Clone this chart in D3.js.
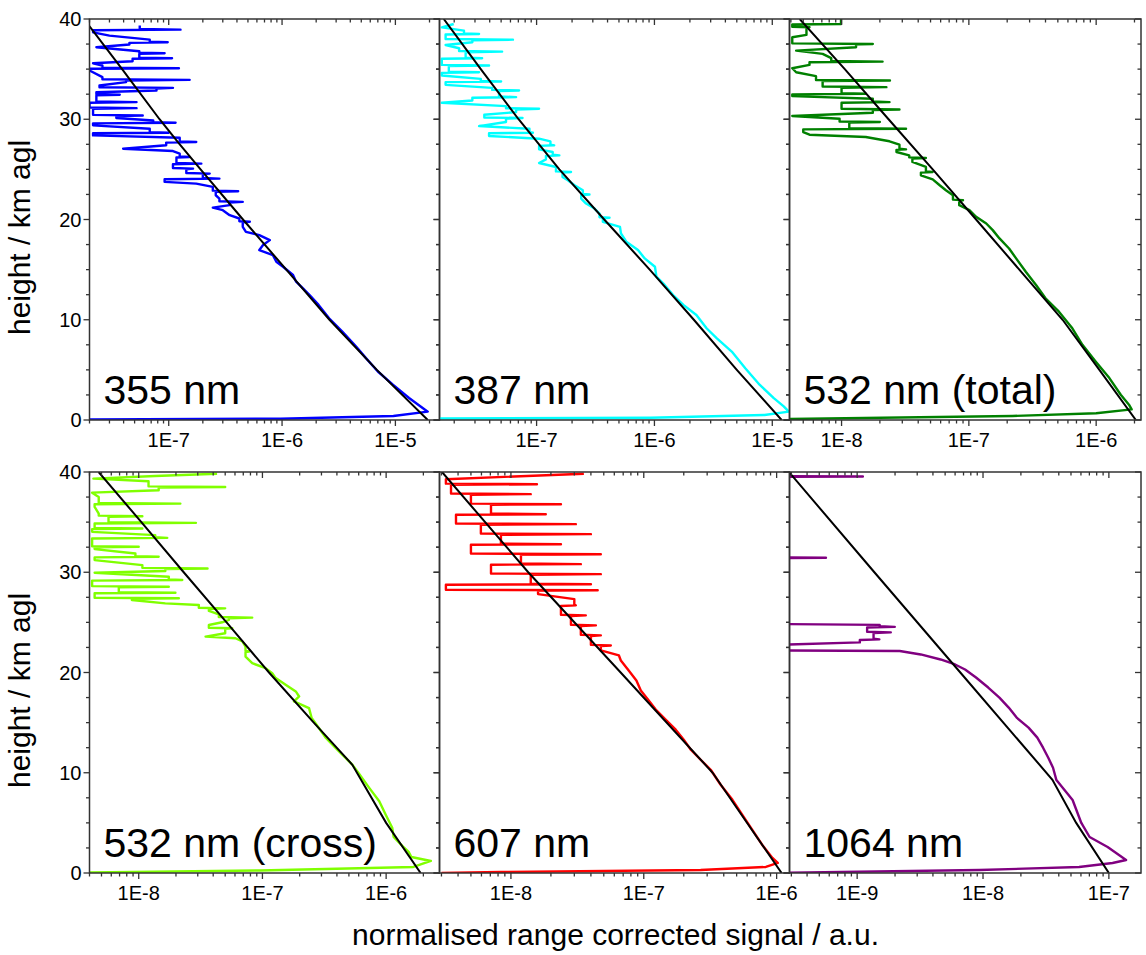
<!DOCTYPE html>
<html>
<head>
<meta charset="utf-8">
<script src="https://cdn.jsdelivr.net/npm/d3@7"></script>
<style>
  body { margin: 0; background: #ffffff; }
  text { font-family: "Liberation Sans", Arial, sans-serif; fill: #000; }
</style>
</head>
<body>
<svg id="chart" width="1146" height="955"></svg>
<script>
// ---- measured profiles: [height / km agl, normalised range corrected signal / a.u.] ----
const profile355 = [[39.34,5.55e-8],[38.94,1.27e-7],[38.67,2.15e-8],[38.34,3.0e-8],[37.94,6.8e-8],[37.68,9.8e-8],[37.45,4.5e-8],[37.18,2.3e-8],[36.78,5.5e-8],[36.58,9.2e-8],[36.35,5.5e-8],[36.09,1.07e-7],[35.79,4.8e-8],[35.59,2.15e-8],[35.36,2.6e-8],[35.09,1.23e-7],[34.86,2.0e-8],[34.20,2.6e-8],[33.93,1.53e-7],[33.70,4.2e-8],[33.37,2.45e-8],[33.13,1.09e-7],[32.87,7.8e-8],[32.70,2.3e-8],[32.44,3.7e-8],[32.21,2.3e-8],[31.71,5.2e-8],[31.44,2.0e-8],[31.11,5.2e-8],[30.88,2.15e-8],[30.38,5.9e-8],[30.12,3.45e-8],[29.88,7.3e-8],[29.65,1.15e-7],[29.39,2.15e-8],[29.05,6.8e-8],[28.66,1.0e-7],[28.39,2.15e-8],[28.16,1.25e-7],[27.73,1.75e-7],[27.40,9.5e-8],[27.06,3.96e-8],[26.83,1.09e-7],[26.57,1.25e-7],[26.24,1.53e-7],[25.90,1.17e-7],[25.57,1.94e-7],[25.34,1.09e-7],[25.07,1.64e-7],[24.81,1.43e-7],[24.58,2.3e-7],[24.35,2.0e-7],[24.08,2.8e-7],[23.75,9.2e-8],[23.58,1.75e-7],[23.25,2.45e-7],[22.82,4.1e-7],[22.42,2.6e-7],[22.09,2.8e-7],[21.76,4.5e-7],[21.43,3.45e-7],[21.19,2.45e-7],[20.93,3.0e-7],[20.43,3.45e-7],[20.10,4.2e-7],[19.77,5.2e-7],[19.27,4.5e-7],[18.77,4.8e-7],[18.44,6.3e-7],[17.94,7.8e-7],[17.45,6.8e-7],[16.95,6.3e-7],[16.45,8.3e-7],[15.79,8.9e-7],[15.29,1.02e-6],[14.46,1.25e-6],[13.80,1.33e-6],[13.13,1.53e-6],[12.47,1.75e-6],[11.48,2.1e-6],[10.15,2.6e-6],[8.82,3.4e-6],[7.33,4.5e-6],[6.17,5.5e-6],[4.84,7.0e-6],[3.52,9.5e-6],[2.19,1.32e-5],[1.19,1.74e-5],[0.83,1.93e-5],[0.40,9.6e-6],[0.13,9.7e-7],[0.06,2.0e-8]];
const molecular355 = [[40,1.79e-8],[35,3.88e-8],[30,8.3e-8],[27.7,1.21e-7],[25,1.91e-7],[20,4.52e-7],[15,1.09e-6],[10,2.62e-6],[5,6.86e-6],[0,1.93e-5]];

const profile387 = [[39.50,1.98e-8],[39.17,1.57e-8],[38.84,2.42e-8],[38.51,3.25e-8],[38.18,1.69e-8],[37.94,6.3e-8],[37.68,2.85e-8],[37.41,1.69e-8],[37.08,2.2e-8],[36.75,5.1e-8],[36.42,2.5e-8],[36.09,3.45e-8],[35.75,1.57e-8],[35.36,3.95e-8],[35.02,1.8e-8],[34.69,3.25e-8],[34.36,1.57e-8],[34.03,3.36e-8],[33.76,5.0e-8],[33.43,1.69e-8],[33.13,4.2e-8],[32.87,7.1e-8],[32.54,4.8e-8],[32.21,6.7e-8],[31.87,2.85e-8],[31.64,1.57e-8],[31.31,5.5e-8],[31.04,1.05e-7],[30.71,6.7e-8],[30.45,3.6e-8],[30.12,7.6e-8],[29.72,5.5e-8],[29.32,3.25e-8],[29.05,8.7e-8],[28.66,9.3e-8],[28.33,3.95e-8],[28.06,1.05e-7],[27.80,1.31e-7],[27.40,1.41e-7],[27.00,1.05e-7],[26.73,1.37e-7],[26.40,1.56e-7],[26.00,1.2e-7],[25.64,1.05e-7],[25.24,1.46e-7],[24.74,1.96e-7],[24.25,1.66e-7],[23.91,1.84e-7],[23.42,2.1e-7],[22.92,2.47e-7],[22.49,2.81e-7],[22.09,2.39e-7],[21.59,2.63e-7],[21.09,3.1e-7],[20.60,3.42e-7],[20.17,4.16e-7],[19.77,3.65e-7],[19.27,5.1e-7],[18.61,5.2e-7],[17.78,5.77e-7],[16.95,7.25e-7],[16.12,8.27e-7],[15.29,1.01e-6],[14.30,1.04e-6],[13.47,1.22e-6],[12.47,1.44e-6],[11.48,1.76e-6],[10.48,2.27e-6],[9.15,2.77e-6],[8.16,3.37e-6],[6.83,4.53e-6],[5.17,5.9e-6],[3.52,7.8e-6],[2.19,1.03e-5],[1.36,1.25e-5],[0.83,1.38e-5],[0.50,8.6e-6],[0.23,9.3e-7],[0.15,1.5e-8]];
const molecular387 = [[40,1.63e-8],[35,3.36e-8],[30,7.03e-8],[25,1.56e-7],[20,3.75e-7],[15,9.12e-7],[10,2.16e-6],[5,5.0e-6],[0,1.2e-5]];

const profile532t = [[40.4,9.9e-9],[39.5,9.9e-9],[39.45,4.1e-9],[39.17,5.6e-9],[38.41,5.3e-9],[38.18,4.1e-9],[37.51,1.76e-8],[37.18,1.3e-8],[36.85,4.4e-9],[36.52,7.1e-9],[36.09,8.3e-9],[35.75,2.1e-8],[35.42,5.6e-9],[35.09,4.1e-9],[34.69,4.4e-9],[34.30,6.3e-9],[33.86,2.4e-8],[33.53,7.1e-9],[33.20,2.25e-8],[32.87,1.0e-8],[32.54,1.55e-8],[32.31,4.1e-9],[32.04,1.76e-8],[31.71,2.38e-8],[31.31,1.0e-8],[30.98,2.85e-8],[30.65,1.76e-8],[30.32,4.1e-9],[30.05,9.65e-9],[29.72,2.0e-8],[29.39,1.15e-8],[29.05,3.21e-8],[28.72,5.0e-9],[28.46,5.6e-9],[28.23,1.55e-8],[27.80,2.38e-8],[27.46,2.85e-8],[27.00,3.21e-8],[26.73,2.7e-8],[26.40,3.4e-8],[26.14,4.6e-8],[25.74,3.6e-8],[25.24,4.6e-8],[24.74,5.2e-8],[24.41,4.2e-8],[24.01,5.2e-8],[23.42,5.9e-8],[22.92,6.6e-8],[22.42,7.5e-8],[21.92,9.0e-8],[21.43,8.4e-8],[20.93,1.01e-7],[20.27,1.14e-7],[19.60,1.37e-7],[18.94,1.54e-7],[18.11,1.74e-7],[17.11,2.07e-7],[16.12,2.35e-7],[14.79,2.8e-7],[13.47,3.37e-7],[12.14,4.0e-7],[10.81,5.1e-7],[9.15,6.5e-7],[7.50,7.8e-7],[5.84,9.9e-7],[4.18,1.27e-6],[2.52,1.56e-6],[1.53,1.81e-6],[1.06,1.9e-6],[0.67,1.0e-6],[0.40,2.2e-7],[0.10,3.9e-9]];
const molecular532t = [[40,4.69e-9],[35,1.06e-8],[30,2.34e-8],[25,5.2e-8],[20,1.14e-7],[15,2.49e-7],[10,5.45e-7],[5,1.06e-6],[0,2.05e-6]];

const profile532c = [[39.83,4.3e-8],[39.60,1.36e-8],[39.34,4.3e-9],[39.07,1.2e-8],[38.51,5.0e-8],[38.18,1.45e-8],[37.94,4.2e-9],[37.51,4.75e-9],[36.85,2.17e-8],[36.52,4.4e-9],[35.85,4.75e-9],[35.59,1.07e-8],[35.19,5.7e-9],[34.93,2.9e-8],[34.63,4.4e-9],[34.36,1.07e-8],[34.03,4.2e-9],[33.70,1.36e-8],[33.43,1.7e-8],[33.10,4.2e-9],[32.54,1.0e-8],[32.31,4.4e-9],[31.87,9.4e-9],[31.54,1.45e-8],[31.21,4.4e-9],[30.71,1.07e-8],[30.38,3.6e-8],[30.12,1.64e-8],[29.95,4.4e-9],[29.55,1.75e-8],[29.22,2.25e-8],[28.89,4.2e-9],[28.56,1.75e-8],[28.23,6.9e-9],[27.96,1.98e-8],[27.66,4.4e-9],[27.40,2.11e-8],[27.23,8.8e-9],[26.90,1.64e-8],[26.73,3.06e-8],[26.40,5.0e-8],[26.14,3.69e-8],[25.80,4.44e-8],[25.47,8.27e-8],[25.24,5.35e-8],[25.01,4.73e-8],[24.74,3.69e-8],[24.41,5.7e-8],[23.91,5.0e-8],[23.58,3.47e-8],[23.42,6.05e-8],[23.09,6.9e-8],[22.59,7.3e-8],[22.09,7.8e-8],[21.59,7.3e-8],[20.93,8.27e-8],[20.43,1.06e-7],[19.93,1.2e-7],[19.44,1.28e-7],[18.77,1.54e-7],[18.11,1.86e-7],[17.61,1.98e-7],[17.11,1.8e-7],[16.45,2.38e-7],[15.46,2.5e-7],[14.46,2.86e-7],[13.47,3.26e-7],[12.47,3.9e-7],[11.48,4.7e-7],[10.81,5.33e-7],[9.82,6.1e-7],[8.49,7.3e-7],[7.16,8.8e-7],[5.84,9.9e-7],[4.51,1.12e-6],[3.60,1.15e-6],[2.70,1.35e-6],[2.10,1.52e-6],[1.60,1.6e-6],[1.20,2.3e-6],[0.60,1.66e-6],[0.25,9.5e-8],[0.05,4.0e-9]];
const molecular532c = [[40,4.74e-9],[35,1.05e-8],[30,2.31e-8],[25,5.13e-8],[20,1.13e-7],[15,2.6e-7],[10.8,5.33e-7],[5,1.0e-6],[0,1.9e-6]];

const profile607 = [[39.83,3.54e-8],[39.28,3.24e-9],[38.78,1.57e-8],[38.29,3.54e-9],[37.79,1.41e-8],[37.29,5.0e-9],[36.79,2.38e-8],[36.29,7.08e-9],[35.79,1.83e-8],[35.29,3.86e-9],[34.80,3.08e-8],[34.30,5.94e-9],[33.80,4.0e-8],[33.30,8.41e-9],[32.80,2.38e-8],[32.30,5.0e-9],[31.80,4.75e-8],[31.31,1.19e-8],[30.81,3.36e-8],[30.31,7.08e-9],[29.81,4.75e-8],[29.31,1.41e-8],[28.81,4.0e-8],[28.32,3.24e-9],[28.20,4.5e-8],[27.82,1.6e-8],[27.32,3.0e-8],[26.70,3.08e-8],[26.20,2.38e-8],[25.70,3.66e-8],[25.20,2.83e-8],[24.70,4.36e-8],[24.20,3.36e-8],[23.70,4.75e-8],[23.20,4.0e-8],[22.70,5.65e-8],[22.20,4.75e-8],[21.70,6.5e-8],[21.20,6.72e-8],[20.20,7.7e-8],[19.20,8.8e-8],[18.20,9.5e-8],[17.20,1.09e-7],[16.30,1.23e-7],[15.30,1.46e-7],[14.30,1.74e-7],[13.30,2.0e-7],[12.30,2.26e-7],[11.30,2.68e-7],[10.30,3.19e-7],[8.80,3.79e-7],[7.30,4.65e-7],[5.80,5.52e-7],[4.30,6.56e-7],[2.80,7.8e-7],[1.50,9.3e-7],[1.00,1.02e-6],[0.60,8.3e-7],[0.30,2.68e-7],[0.10,8.41e-9],[0.00,3.0e-9]];
const molecular607 = [[40,3.03e-9],[30,1.35e-8],[20,6.7e-8],[10,3.3e-7],[0,1.09e-6]];

const profile1064 = [[40,1.5e-10],[39.6,1.5e-10],[39.55,1.11e-9],[39.45,1.5e-10],[31.5,1.5e-10],[31.45,5.65e-10],[31.35,1.5e-10],[24.85,1.5e-10],[24.75,1.51e-9],[24.55,1.99e-9],[24.3,1.2e-9],[24.0,1.85e-9],[23.7,1.35e-9],[23.3,1.5e-9],[23.0,1.05e-9],[22.7,1.5e-10],[22.2,1.5e-10],[22.15,2.18e-9],[21.8,3.2e-9],[21.3,4.6e-9],[20.8,6.0e-9],[20.3,7.2e-9],[19.5,8.8e-9],[18.5,1.1e-8],[17.5,1.35e-8],[16.5,1.6e-8],[15.5,1.85e-8],[14.5,2.3e-8],[13.5,2.7e-8],[12.5,3.0e-8],[11.5,3.3e-8],[10.5,3.6e-8],[9.27,3.83e-8],[7.28,5.15e-8],[4.99,6.04e-8],[3.59,7.03e-8],[2.59,9.77e-8],[1.30,1.37e-7],[1.0,1.07e-7],[0.6,5.8e-8],[0.3,9.4e-9],[0.03,2.9e-10]];
const molecular1064 = [[40,2.87e-10],[30,1.37e-9],[20,6.6e-9],[9.3,3.56e-8],[5,5.5e-8],[0,1.0e-7]];

// ---- axis ranges and labels ----
const signalRanges = [[2.0e-8, 2.45e-5], [1.5e-8, 1.4e-5], [3.9e-9, 2.25e-6],
                      [4.0e-9, 2.7e-6], [2.9e-9, 1.25e-6], [2.9e-10, 1.8e-7]];
const heightRange = [0, 40];
const heightTickLabels = [0, 10, 20, 30, 40];
const channelLabels = ["355 nm", "387 nm", "532 nm (total)", "532 nm (cross)", "607 nm", "1064 nm"];
const channelColors = ["#0000ff", "#00ffff", "#008000", "#80ff00", "#ff0000", "#800080"];
const profiles = [profile355, profile387, profile532t, profile532c, profile607, profile1064];
const molecular = [molecular355, molecular387, molecular532t, molecular532c, molecular607, molecular1064];
// heights above which the raw signal is noise dominated (single-bin spikes)
const noisyAbove = [19, 19, 20, 20, 21, 22.1];

const xTitle = "normalised range corrected signal / a.u.";
const yTitle = "height / km agl";

// ---- layout ----
const colEdges = [89.5, 439.5, 789.5, 1141];
const rowTops = [19, 472];
const panelH = 401;
const majorLen = 6, minorLen = 3.5;

const svg = d3.select("#chart");

function logTicks(domain) {
  const out = [];
  const d0 = Math.floor(Math.log10(domain[0])), d1 = Math.ceil(Math.log10(domain[1]));
  for (let d = d0; d <= d1; d++) {
    for (let k = 1; k <= 9; k++) {
      const v = +(k + "e" + d);
      if (v >= domain[0] * 0.9999 && v <= domain[1] * 1.0001) out.push({ v, major: k === 1, exp: d });
    }
  }
  return out;
}

// Noise peaks are single range bins: draw each local maximum in the noisy
// part as a thin spike that leaves and rejoins the trace within one bin.
function spikeVertices(points, above, halfBin) {
  const out = [];
  points.forEach((p, k) => {
    const prev = points[k - 1], next = points[k + 1];
    const tip = prev && next && p[0] > above && p[1] > prev[1] && p[1] > next[1];
    if (tip) out.push([p[0] + halfBin, prev[1]]);
    out.push(p);
    if (tip) out.push([p[0] - halfBin, next[1]]);
  });
  return out;
}

profiles.forEach((prof, i) => {
  const col = i % 3, row = Math.floor(i / 3);
  const x0 = colEdges[col], x1 = colEdges[col + 1];
  const y0 = rowTops[row], y1 = y0 + panelH;

  const x = d3.scaleLog().domain(signalRanges[i]).range([x0, x1]);
  const y = d3.scaleLinear().domain(heightRange).range([y1, y0]);

  const g = svg.append("g");
  const clipId = "clip" + i;
  svg.append("clipPath").attr("id", clipId)
    .append("rect").attr("x", x0).attr("y", y0).attr("width", x1 - x0).attr("height", y1 - y0);

  const line = d3.line().x(d => x(d[1])).y(d => y(d[0]));

  g.append("path").datum(spikeVertices(prof, noisyAbove[i], 0.06))
    .attr("clip-path", `url(#${clipId})`)
    .attr("d", line)
    .attr("fill", "none")
    .attr("stroke", channelColors[i])
    .attr("stroke-width", 2.4)
    .attr("stroke-linejoin", "round");

  g.append("path").datum(molecular[i])
    .attr("clip-path", `url(#${clipId})`)
    .attr("d", line)
    .attr("fill", "none")
    .attr("stroke", "#000")
    .attr("stroke-width", 2);

  // frame
  g.append("rect").attr("x", x0).attr("y", y0).attr("width", x1 - x0).attr("height", y1 - y0)
    .attr("fill", "none").attr("stroke", "#333").attr("stroke-width", 1.5);

  // horizontal (signal) ticks: bottom outward, top inward
  const xt = logTicks(signalRanges[i]);
  xt.forEach(t => {
    const px = x(t.v), len = t.major ? majorLen : minorLen;
    g.append("line").attr("x1", px).attr("x2", px).attr("y1", y1).attr("y2", y1 + len)
      .attr("stroke", "#333").attr("stroke-width", 1.3);
    g.append("line").attr("x1", px).attr("x2", px).attr("y1", y0).attr("y2", y0 + len)
      .attr("stroke", "#333").attr("stroke-width", 1.3);
    if (t.major) {
      g.append("text").attr("x", px).attr("y", y1 + 27)
        .attr("text-anchor", "middle").attr("font-size", 20)
        .text("1E" + t.exp);
    }
  });

  // vertical (height) ticks: left outward, right inward
  d3.range(0, 40.01, 2.5).forEach(h => {
    const py = y(h), major = h % 10 === 0, len = major ? majorLen : minorLen;
    g.append("line").attr("x1", x0).attr("x2", x0 - len).attr("y1", py).attr("y2", py)
      .attr("stroke", "#333").attr("stroke-width", 1.3);
    g.append("line").attr("x1", x1).attr("x2", x1 - len).attr("y1", py).attr("y2", py)
      .attr("stroke", "#333").attr("stroke-width", 1.3);
  });
  if (col === 0) {
    heightTickLabels.forEach(h => {
      g.append("text").attr("x", x0 - 8).attr("y", y(h) + 7)
        .attr("text-anchor", "end").attr("font-size", 20).text(h);
    });
    g.append("text")
      .attr("transform", `translate(30,${(y0 + y1) / 2 + 18}) rotate(-90)`)
      .attr("text-anchor", "middle").attr("font-size", 30)
      .text(yTitle);
  }

  // channel label
  g.append("text").attr("x", x0 + 14).attr("y", y1 - 16)
    .attr("font-size", 41).text(channelLabels[i]);
});

svg.append("text").attr("x", 615.5).attr("y", 945)
  .attr("text-anchor", "middle").attr("font-size", 30).text(xTitle);
</script>
</body>
</html>
